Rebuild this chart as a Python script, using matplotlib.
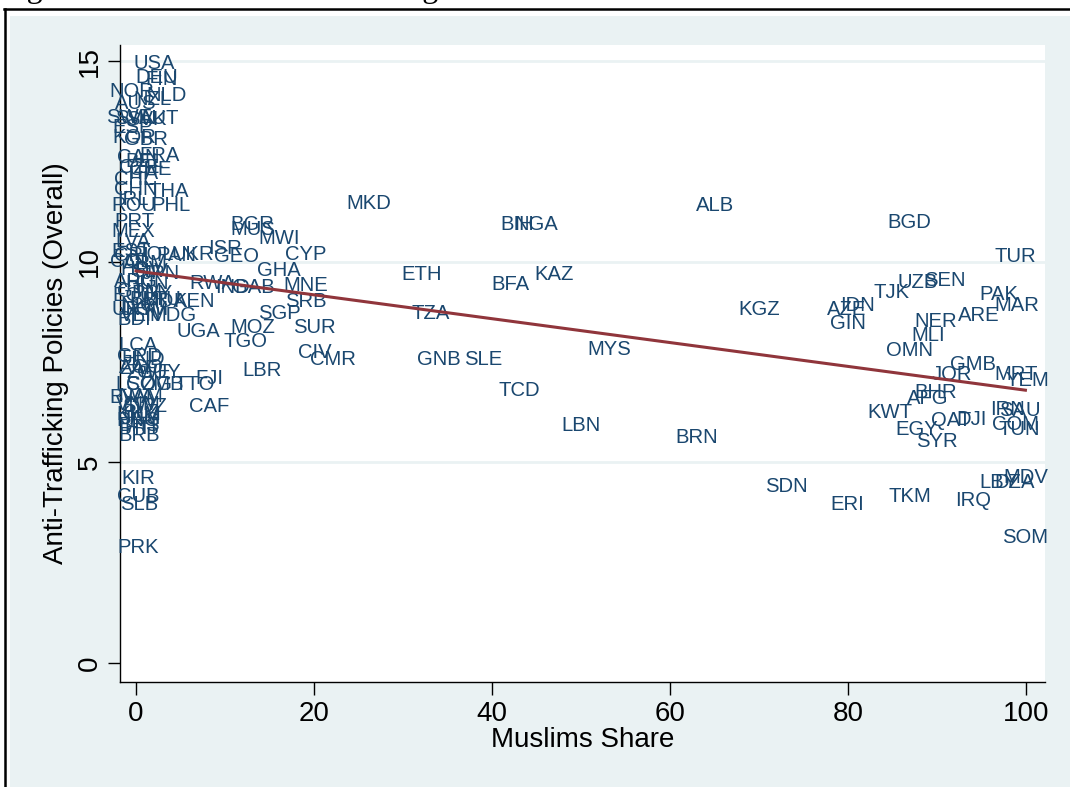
import matplotlib.pyplot as plt
from matplotlib.patches import Rectangle
from matplotlib.lines import Line2D

# country codes, Muslim share (%) and anti-trafficking policy score (overall)
codes = [
    "USA", "DEU", "FIN", "NOR", "NLD", "NZL", "AUS", "SWE", "SVN", "SVK", "AUT",
    "ESP", "KOR", "GBR", "FRA", "CAN", "BEL", "CHE", "CZE", "ITA", "CHL", "CHN",
    "THA", "IRL", "ROU", "PHL", "PRT", "MEX", "LVA", "EST", "CRI", "POL", "PAN",
    "UKR", "ARM", "COL", "HRV", "SLV", "JPN", "ARG", "HUN", "GTM", "ECU", "PRY",
    "BLR", "LTU", "KEN", "MDA", "NIC", "URY", "DOM", "MDG", "VEN", "BDI",
    "LCA", "GRD", "HND", "ZAF", "AGO", "ZWE", "GUY", "LSO", "COG", "ZMB", "TTO",
    "BWA", "NAM", "VNM", "SWZ", "BLZ", "KHM", "PNG", "JAM", "BHS", "HTI", "BRB",
    "KIR", "CUB", "SLB", "PRK",
    "ISR", "GEO", "BGR", "MUS", "MWI", "CYP", "GHA", "RWA", "IND", "GAB", "MNE",
    "SRB", "SGP", "SUR", "MOZ", "TGO", "UGA", "CIV", "CMR", "LBR", "FJI", "CAF",
    "MKD", "ETH", "TZA", "GNB", "SLE", "TCD", "LBN", "BRN", "MYS", "KGZ", "ALB",
    "BIH", "NGA", "BFA", "KAZ",
    "BGD", "TUR", "UZB", "SEN", "TJK", "PAK", "MAR", "IDN", "AZE", "GIN", "NER",
    "ARE", "MLI", "OMN", "GMB", "JOR", "MRT", "YEM", "BHR", "AFG", "KWT", "QAT",
    "DJI", "IRN", "SAU", "COM", "TUN", "EGY", "SYR",
    "SDN", "ERI", "TKM", "IRQ", "LBY", "DZA", "MDV", "SOM",
]
muslim_share = [
    2.1, 2.3, 2.9, -0.5, 3.4, 1.8, 0.0, -0.8, 0.0, 1.2, 2.6,
    -0.4, -0.2, 1.1, 2.6, 0.2, 0.9, 1.6, 0.3, 0.8, -0.2, 0.0,
    3.7, -0.3, -0.3, 3.9, -0.2, -0.3, -0.3, -0.5, -0.5, 2.0, 4.5,
    6.4, 1.0, -0.6, 0.6, 1.5, 2.8, 0.0, 1.2, 0.4, -0.3, 1.8,
    1.5, 3.0, 6.5, 3.2, 0.2, -0.4, 1.0, 4.1, 0.5, -0.2,
    0.2, 0.4, 0.8, 0.3, 0.6, 1.4, 2.6, 0.0, 1.5, 3.0, 6.6,
    -0.5, 0.5, 0.2, 1.0, 0.5, 0.3, 0.3, 0.6, 0.3, 0.5, 0.3,
    0.2, 0.2, 0.3, 0.2,
    10.0, 11.3, 13.1, 13.1, 16.1, 19.1, 16.1, 8.6, 10.8, 13.2, 19.1,
    19.1, 16.1, 20.0, 13.1, 12.3, 7.0, 20.1, 22.1, 14.2, 8.2, 8.2,
    26.2, 32.1, 33.1, 34.0, 39.0, 43.0, 50.0, 63.0, 53.1, 70.0, 65.0,
    42.8, 45.0, 42.1, 47.0,
    86.9, 98.8, 87.8, 90.8, 84.9, 96.9, 98.9, 81.0, 79.8, 80.0, 89.8,
    94.7, 89.0, 86.9, 94.0, 91.7, 98.9, 100.1, 89.8, 88.9, 84.7, 91.6,
    93.8, 97.9, 99.3, 98.8, 99.2, 87.7, 89.9,
    73.0, 79.9, 86.9, 94.0, 96.9, 98.7, 99.9, 99.9,
]
policy_score = [
    14.98, 14.65, 14.6, 14.28, 14.2, 14.1, 14.0, 13.65, 13.62, 13.6, 13.62,
    13.4, 13.15, 13.1, 12.7, 12.65, 12.55, 12.35, 12.4, 12.25, 12.1, 11.85,
    11.8, 11.6, 11.45, 11.45, 11.05, 10.8, 10.55, 10.3, 10.2, 10.22, 10.2,
    10.24, 10.0, 10.05, 9.85, 9.8, 9.75, 9.55, 9.5, 9.3, 9.2, 9.25,
    9.1, 9.12, 9.05, 9.05, 8.95, 8.85, 8.85, 8.72, 8.7, 8.6,
    7.97, 7.7, 7.62, 7.38, 7.42, 7.3, 7.3, 6.98, 6.98, 6.98, 6.98,
    6.68, 6.7, 6.5, 6.45, 6.3, 6.25, 6.1, 6.15, 5.96, 5.9, 5.73,
    4.66, 4.19, 3.99, 2.94,
    10.39, 10.17, 10.99, 10.86, 10.64, 10.24, 9.82, 9.5, 9.42, 9.42, 9.47,
    9.07, 8.75, 8.42, 8.42, 8.07, 8.3, 7.8, 7.62, 7.35, 7.15, 6.45,
    11.51, 9.72, 8.77, 7.62, 7.62, 6.85, 5.98, 5.68, 7.87, 8.87, 11.46,
    10.99, 10.99, 9.49, 9.72,
    11.04, 10.17, 9.54, 9.59, 9.29, 9.24, 8.97, 8.97, 8.87, 8.5, 8.55,
    8.7, 8.22, 7.85, 7.5, 7.25, 7.23, 7.1, 6.8, 6.65, 6.3, 6.1,
    6.13, 6.38, 6.35, 6.0, 5.86, 5.86, 5.58,
    4.44, 3.99, 4.19, 4.11, 4.56, 4.56, 4.68, 3.19,
]

# linear fit line as drawn in the original
fit_x = [0.0, 99.9]
fit_y = [9.77, 6.80]

x_ticks = [0, 20, 40, 60, 80, 100]
y_ticks = [0, 5, 10, 15]

caption = "Figure 3: Overall Anti-Trafficking Index and Muslim Share variable"

navy = "#1a476f"
maroon = "#90353b"
bg = "#eaf2f3"

W, H = 1070, 787
fig = plt.figure(figsize=(W / 100, H / 100), dpi=100, facecolor="white")

# stata graph region and the document frame around it
fig.patches.append(Rectangle((10 / W, 0), 1, 1 - 16 / H, transform=fig.transFigure,
                             facecolor=bg, edgecolor="none", zorder=-5))
fig.lines.append(Line2D([4.5 / W, 4.5 / W], [0, 1 - 9 / H], transform=fig.transFigure,
                        color="black", lw=1.8, zorder=-4))
fig.lines.append(Line2D([3.5 / W, 1], [1 - 9 / H, 1 - 9 / H], transform=fig.transFigure,
                        color="black", lw=1.8, zorder=-4))
fig.text(0 / W, 1 + 3 / H, caption, family="Liberation Serif", fontsize=23,
         va="baseline", ha="left")

ax = fig.add_axes([120 / W, 105 / H, 925 / W, 637 / H])
ax.set_facecolor("white")
ax.set_xlim(-1.8, 102.1)
ax.set_ylim(-0.47, 15.4)

for v in y_ticks[1:]:
    ax.axhline(v, color=bg, lw=2, zorder=1)

for c, xv, yv in zip(codes, muslim_share, policy_score):
    ax.text(xv, yv, c, color=navy, fontsize=14.6, family="Liberation Sans",
            ha="center", va="center_baseline", zorder=3)

ax.plot(fit_x, fit_y, color=maroon, lw=2.2, zorder=4)

for s in ["top", "right"]:
    ax.spines[s].set_visible(False)
for s in ["left", "bottom"]:
    ax.spines[s].set_linewidth(1.0)

ax.set_xticks(x_ticks)
ax.set_yticks(y_ticks)
ax.tick_params(axis="both", length=9, width=1.0, labelsize=20)
ax.tick_params(axis="x", pad=5)
ax.tick_params(axis="y", pad=3)
for lab in ax.get_yticklabels():
    lab.set_rotation(90)
    lab.set_va("center")
for lab in ax.get_xticklabels() + ax.get_yticklabels():
    lab.set_family("Liberation Sans")

ax.set_xlabel("Muslims Share", fontsize=20, family="Liberation Sans", labelpad=0)
ax.set_ylabel("Anti-Trafficking Policies (Overall)", fontsize=20,
              family="Liberation Sans", labelpad=6)

fig.savefig("out.png", dpi=100, facecolor="white")
